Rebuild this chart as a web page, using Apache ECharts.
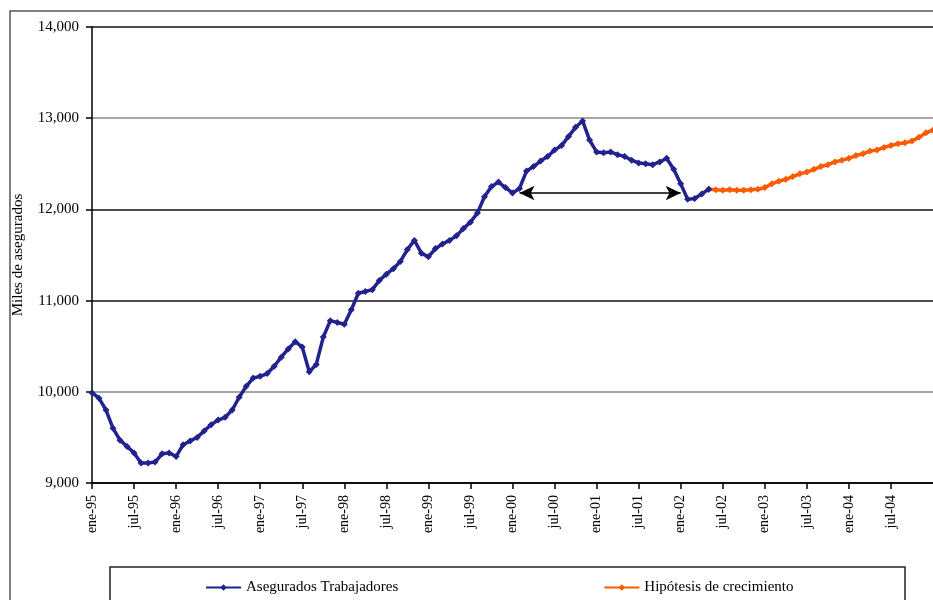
<!DOCTYPE html>
<html>
<head>
<meta charset="utf-8">
<script src="https://cdn.jsdelivr.net/npm/echarts@6/dist/echarts.min.js"></script>
<style>
  html, body { margin: 0; padding: 0; background: #fff; }
  #chart { width: 933px; height: 600px; }
</style>
</head>
<body>
<div id="chart"></div>
<script>
// month names and years for the category axis
var monthNames = ['ene', 'feb', 'mar', 'abr', 'may', 'jun', 'jul', 'ago', 'sep', 'oct', 'nov', 'dic'];
var years = ['95', '96', '97', '98', '99', '00', '01', '02', '03', '04', '05'];

// Asegurados Trabajadores, monthly from ene-95 to may-02 (miles)
var asegurados = [
  9990, 9930, 9800, 9600, 9470, 9400, 9330, 9220, 9220, 9230, 9320, 9330,
  9290, 9420, 9460, 9500, 9570, 9640, 9690, 9720, 9800, 9940, 10060, 10150,
  10170, 10200, 10280, 10380, 10470, 10550, 10490, 10220, 10300, 10600, 10780, 10760,
  10740, 10900, 11080, 11100, 11120, 11220, 11290, 11350, 11430, 11560, 11660, 11520,
  11480, 11570, 11620, 11660, 11710, 11790, 11860, 11960, 12140, 12250, 12300, 12240,
  12180, 12230, 12420, 12470, 12530, 12580, 12650, 12700, 12800, 12900, 12970, 12760,
  12630, 12620, 12630, 12600, 12580, 12540, 12510, 12500, 12490, 12520, 12560, 12440,
  12280, 12110, 12120, 12170, 12220
];

// Hipotesis de crecimiento, monthly from may-02 to ene-05
var hipotesis = [
  12220, 12215, 12210, 12215, 12210, 12210, 12215, 12220,
  12240, 12280, 12310, 12330, 12360, 12390, 12410, 12440, 12470, 12490, 12520, 12540,
  12560, 12590, 12610, 12640, 12650, 12680, 12700, 12720, 12730, 12750, 12790, 12840,
  12870
];

// arrow between ene-00 dip and ene-02
var arrowFrom = ['feb-00', 12180];
var arrowTo = ['ene-02', 12180];

var categories = [];
years.forEach(function (y) {
  monthNames.forEach(function (m) { categories.push(m + '-' + y); });
});
categories = categories.slice(0, 121); // ene-95 .. ene-05

var hipStart = asegurados.length - 1;
var blueData = categories.map(function (c, i) { return i < asegurados.length ? asegurados[i] : null; });
var orangeData = categories.map(function (c, i) {
  return i >= hipStart && i - hipStart < hipotesis.length ? hipotesis[i - hipStart] : null;
});

var serif = '"Liberation Serif", "DejaVu Serif", serif';
var showTick = function (i) { return i % 6 === 0 && i < 120; };

var chart = echarts.init(document.getElementById('chart'));
chart.setOption({
  animation: false,
  backgroundColor: '#fff',
  graphic: [
    { type: 'rect', shape: { x: 10, y: 11, width: 960, height: 620 },
      style: { fill: null, stroke: '#555', lineWidth: 1.5 }, z: -1 },
    { type: 'rect', shape: { x: 110, y: 567, width: 795, height: 60 },
      style: { fill: null, stroke: '#222', lineWidth: 1.5 }, z: -1 }
  ],
  grid: { left: 92, top: 27, bottom: 117, right: -1 },
  legend: {
    left: 200, top: 575,
    itemGap: 205,
    itemWidth: 35, itemHeight: 8,
    textStyle: { fontFamily: serif, fontSize: 15, color: '#000' },
    data: ['Asegurados Trabajadores', 'Hipótesis de crecimiento']
  },
  xAxis: {
    type: 'category',
    data: categories,
    boundaryGap: false,
    axisLine: { lineStyle: { color: '#000', width: 1.5 } },
    axisTick: { interval: showTick, length: 6, lineStyle: { color: '#000', width: 1.5 } },
    axisLabel: {
      interval: showTick, rotate: 90, margin: 12,
      fontFamily: serif, fontSize: 14, color: '#000'
    },
    splitLine: { show: false }
  },
  yAxis: {
    type: 'value',
    min: 9000, max: 14000, interval: 1000,
    name: 'Miles de asegurados',
    nameLocation: 'middle', nameGap: 66, nameRotate: 90,
    nameTextStyle: { fontFamily: serif, fontSize: 15, color: '#000' },
    axisLine: { show: true, lineStyle: { color: '#000', width: 1.5 } },
    axisTick: { show: true, length: 6, lineStyle: { color: '#000', width: 1.5 } },
    axisLabel: {
      margin: 13, fontFamily: serif, fontSize: 15, color: '#000',
      formatter: function (v) { return v.toLocaleString('en-US'); }
    },
    splitLine: { lineStyle: { color: ['#000', '#888', '#111', '#111', '#888', '#111'], width: 1.5 } }
  },
  series: [
    {
      name: 'Asegurados Trabajadores',
      type: 'line',
      data: blueData,
      color: '#22228f',
      symbol: 'diamond', symbolSize: 7, showAllSymbol: true,
      lineStyle: { width: 3.5, color: '#22228f' },
      itemStyle: { color: '#22228f' },
      z: 3,
      markLine: {
        silent: true,
        symbol: ['arrow', 'arrow'],
        symbolSize: [11, 15],
        label: { show: false },
        lineStyle: { color: '#000', width: 1.5, type: 'solid' },
        data: [[{ coord: arrowFrom }, { coord: arrowTo }]]
      }
    },
    {
      name: 'Hipótesis de crecimiento',
      type: 'line',
      data: orangeData,
      color: '#ff5a00',
      symbol: 'diamond', symbolSize: 7, showAllSymbol: true,
      lineStyle: { width: 3.5, color: '#ff5a00' },
      itemStyle: { color: '#ff5a00' },
      z: 2
    }
  ]
});
</script>
</body>
</html>
